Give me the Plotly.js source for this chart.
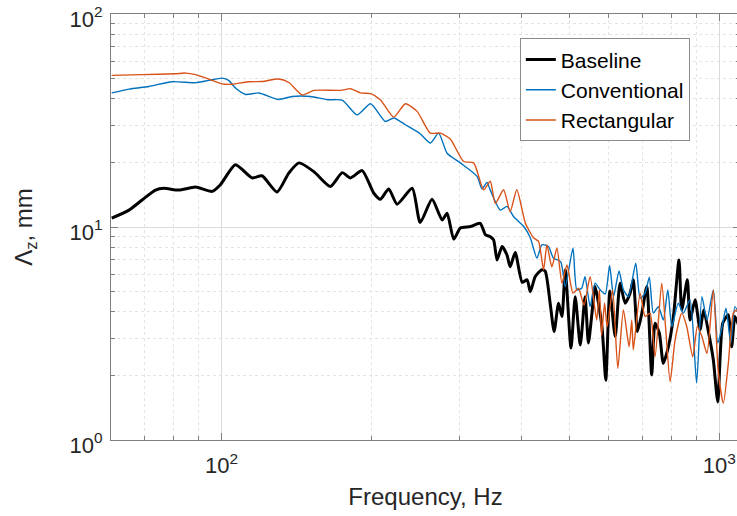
<!DOCTYPE html>
<html>
<head>
<meta charset="utf-8">
<script src="https://cdn.plot.ly/plotly-3.0.1.min.js"></script>
<style>
  html, body { margin: 0; padding: 0; background: #ffffff; overflow: hidden; }
  #chart { width: 740px; height: 516px; }
</style>
</head>
<body>
<div id="chart"></div>
<script>
// Correlation length Λz versus frequency for three configurations
const baselineF = [60.2, 65.2, 69.3, 73.7, 76.6, 82.1, 88.7, 95.8, 99.5, 106.7, 115.2, 120.6, 129.3, 136.5, 143.1, 153.3, 165.5, 174.8, 181.6, 191.7, 202.3, 208.5, 216.7, 225.3, 241.6, 250.7, 264.8, 277.4, 283.9, 292.7, 301.9, 316.2, 330.9, 339, 346.6, 352, 357.7, 366, 374.4, 380, 389, 401.8, 411, 417.1, 426.8, 440, 446.9, 457.2, 465.7, 475.3, 482.9, 490.3, 503.5, 513.4, 525.5, 537.3, 545.7, 554.3, 562.7, 580.9, 591.4, 602.5, 617.7, 631.7, 646.7, 661.7, 671.6, 684.5, 698.7, 714.9, 731.3, 742.7, 757.6, 771.6, 790, 808.5, 829.6, 840.2, 862.2, 873, 893.8, 914.5, 929.8, 951.8, 972.3, 992.6, 1015.7, 1042.2, 1058.7, 1074.7, 1100];
const baselineV = [11.0, 12.0, 13.4, 14.9, 15.2, 14.9, 15.4, 14.7, 15.8, 19.6, 17.0, 17.4, 14.6, 17.9, 20.0, 18.2, 15.5, 18.0, 17.0, 18.4, 14.4, 13.5, 15.1, 12.8, 15.2, 10.5, 13.5, 10.8, 11.6, 8.77, 9.9, 10.05, 10.4, 9.2, 9.0, 8.7, 7.0, 8.1, 7.4, 6.5, 7.6, 5.5, 5.65, 4.97, 5.85, 6.3, 6.2, 4.39, 3.23, 4.39, 3.8, 6.3, 2.7, 4.71, 2.79, 4.71, 2.85, 3.87, 5.25, 3.41, 1.91, 5.0, 3.06, 5.45, 4.39, 4.89, 5.65, 3.23, 3.94, 5.25, 2.02, 3.53, 3.17, 2.29, 2.74, 3.8, 7.0, 4.08, 5.65, 3.66, 4.55, 3.29, 4.08, 3.17, 2.38, 1.51, 3.53, 3.87, 2.74, 3.8, 3.3];

const conventionalF = [60.2, 65.2, 71.5, 79.7, 88.7, 94.3, 100.3, 103.4, 106.7, 111.8, 118.8, 130.2, 138.6, 151, 163.1, 174.8, 187.3, 199.3, 213.4, 221.8, 234.1, 250.7, 262.8, 273, 283.9, 301.9, 326.1, 333.6, 341.4, 346.6, 363.2, 374.4, 386, 404.8, 417.1, 430.1, 440, 453.6, 464.2, 480, 490.3, 508.1, 517.3, 528.9, 537.3, 550, 562.7, 576.2, 590, 601.9, 613, 628.7, 641.6, 656.6, 679.3, 693.2, 709.4, 723.3, 736.8, 754.2, 771.6, 787.8, 802.6, 826.8, 846.5, 873, 900, 922.4, 944.3, 972.3, 992.6, 1011.1, 1031.1, 1053.9, 1074.7, 1100];
const conventionalV = [42.6, 44.4, 45.7, 48.1, 47.6, 48.8, 50.0, 48.8, 44.9, 41.9, 42.6, 39.7, 41.0, 41.0, 39.6, 39.4, 33.6, 37.9, 31.3, 32.5, 30.2, 27.4, 24.8, 27.6, 22.2, 20.0, 17.3, 15.1, 16.2, 14.9, 12.0, 12.5, 11.2, 10.05, 8.9, 7.14, 8.25, 8.1, 7.14, 6.88, 5.25, 7.95, 5.07, 5.16, 5.85, 4.23, 5.45, 5.07, 4.85, 6.6, 4.71, 6.22, 5.07, 4.71, 6.77, 4.63, 4.89, 5.81, 3.94, 4.23, 3.66, 5.07, 3.41, 4.39, 3.94, 4.55, 1.85, 4.71, 3.66, 5.07, 2.85, 3.35, 4.16, 2.85, 4.23, 3.8];

const rectangularF = [60.2, 69.3, 80.8, 84.7, 88.7, 94.3, 100.3, 105, 113.5, 120.6, 130.2, 136.5, 145.3, 153.3, 173.5, 181.6, 190.1, 199.3, 208.5, 221.8, 234.1, 247.1, 262.6, 275.2, 288.1, 306.5, 321, 336.1, 346.6, 354.8, 368.6, 380, 391.9, 407.9, 423.5, 433.3, 443.5, 450.4, 460.8, 471.8, 482.9, 494.2, 508.1, 521, 534.8, 550, 567, 574.2, 580, 588, 595, 610.3, 625.2, 641.6, 658.7, 666.8, 671.6, 693.2, 709.4, 725.5, 742.7, 765.9, 780.4, 796.3, 814.8, 840.2, 859.8, 884.2, 903.3, 922.4, 944.3, 972.3, 995.4, 1018.6, 1042.2, 1066.5, 1083.4, 1100];
const rectangularV = [51.5, 51.9, 52.4, 52.8, 51.9, 49.5, 47.0, 46.8, 48.1, 48.2, 49.5, 47.7, 41.7, 43.8, 43.8, 44.6, 42.6, 42.3, 39.6, 32.8, 37.9, 34.9, 27.6, 27.6, 25.9, 20.3, 20.0, 14.95, 16.4, 12.9, 14.95, 11.8, 14.95, 10.4, 8.9, 8.55, 6.3, 8.25, 6.5, 7.95, 5.45, 6.64, 4.89, 5.16, 4.3, 5.85, 3.66, 5.07, 3.1, 4.4, 3.4, 5.07, 2.17, 4.08, 2.74, 3.66, 2.65, 4.89, 3.8, 3.94, 2.46, 5.45, 3.29, 1.88, 2.95, 3.94, 3.41, 2.46, 3.41, 3.06, 2.55, 5.07, 2.06, 1.49, 2.29, 3.94, 4.08, 3.5];

// Axis ticks
const xMajorTicks = [100, 1000];
const xMajorText = ['10<sup>2</sup>', '10<sup>3</sup>'];
const xMinorTicks = [60, 70, 80, 90, 200, 300, 400, 500, 600, 700, 800, 900];
const yMajorTicks = [1, 10, 100];
const yMajorText = ['10<sup>0</sup>', '10<sup>1</sup>', '10<sup>2</sup>'];
const yMinorTicks = [2, 3, 4, 5, 6, 7, 8, 9, 20, 30, 40, 50, 60, 70, 80, 90];

const FONT = 'Liberation Sans, Arial, Helvetica, sans-serif';
const TEXT = '#262626';
const AXIS = '#808080';

const traces = [
  { x: baselineF, y: baselineV, name: 'Baseline', mode: 'lines',
    line: { color: '#000000', width: 3, shape: 'spline', smoothing: 0.6 } },
  { x: conventionalF, y: conventionalV, name: 'Conventional', mode: 'lines',
    line: { color: '#0072BD', width: 1.4, shape: 'spline', smoothing: 0.6 } },
  { x: rectangularF, y: rectangularV, name: 'Rectangular', mode: 'lines',
    line: { color: '#D95319', width: 1.4, shape: 'spline', smoothing: 0.6 } }
];

function axisBase() {
  return {
    type: 'log',
    showline: true, linecolor: AXIS, linewidth: 1, mirror: 'allticks',
    ticks: 'inside', ticklen: 7, tickcolor: AXIS, tickwidth: 1,
    showgrid: true, gridcolor: '#dcdcdc', gridwidth: 1,
    zeroline: false,
    ticklabeloverflow: 'allow',
    tickfont: { family: FONT, size: 22, color: TEXT }
  };
}

const xaxis = Object.assign(axisBase(), {
  range: [Math.log10(60), Math.log10(1100)],
  tickmode: 'array', tickvals: xMajorTicks, ticktext: xMajorText,
  ticklabelstandoff: 6,
  minor: { tickmode: 'array', tickvals: xMinorTicks, ticks: 'inside', ticklen: 4,
           tickcolor: AXIS, showgrid: true, gridcolor: '#e4e4e4', griddash: 'dot', gridwidth: 1 },
  title: { text: 'Frequency, Hz', font: { family: FONT, size: 24, color: TEXT }, standoff: 10 }
});

const yaxis = Object.assign(axisBase(), {
  range: [0, 2],
  tickmode: 'array', tickvals: yMajorTicks, ticktext: yMajorText,
  ticklabelstandoff: 3,
  ticklabelshift: 5,
  minor: { tickmode: 'array', tickvals: yMinorTicks, ticks: 'inside', ticklen: 4,
           tickcolor: AXIS, showgrid: true, gridcolor: '#e4e4e4', griddash: 'dot', gridwidth: 1 },
  title: { text: 'Λ<sub>z</sub>, mm', font: { family: FONT, size: 24, color: TEXT }, standoff: 30 }
});

const layout = {
  width: 740, height: 516,
  margin: { l: 111, r: 0, t: 14, b: 76, pad: 0 },
  paper_bgcolor: '#ffffff', plot_bgcolor: '#ffffff',
  font: { family: FONT, color: TEXT },
  showlegend: true,
  legend: {
    x: 0.650, y: 0.943, xanchor: 'left', yanchor: 'top',
    bgcolor: '#ffffff', bordercolor: '#8c8c8c', borderwidth: 1,
    font: { family: FONT, size: 21, color: '#000000' }
  },
  xaxis: xaxis,
  yaxis: yaxis
};

Plotly.newPlot('chart', traces, layout, { displayModeBar: false, staticPlot: true });
</script>
</body>
</html>
